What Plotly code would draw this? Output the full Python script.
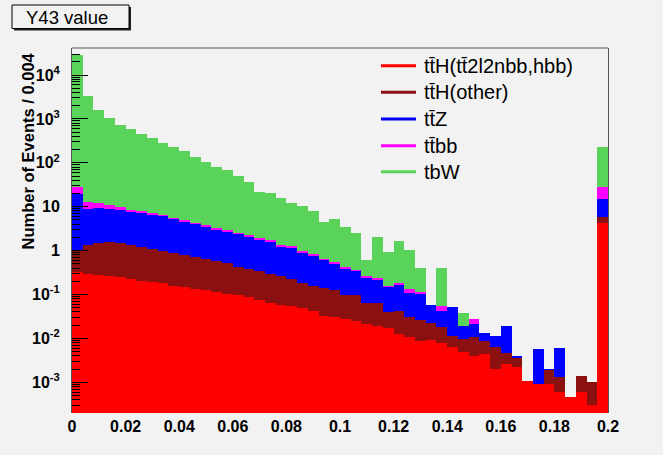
import numpy as np
import plotly.graph_objects as go

# 50 bins of width 0.004 on [0, 0.2]
bin_width = 0.004
bin_centers = [round(bin_width * (k + 0.5), 4) for k in range(50)]

# Expected events per bin for each sample (stacked bottom -> top)
tth_signal = [
    0.331, 0.293, 0.278, 0.264, 0.246, 0.222, 0.206, 0.196, 0.180, 0.156,
    0.146, 0.133, 0.127, 0.116, 0.103, 0.0975, 0.0892, 0.0769, 0.0650, 0.0577,
    0.0547, 0.0485, 0.0428, 0.0324, 0.0312, 0.0272, 0.0249, 0.0210, 0.0195, 0.0170,
    0.0126, 0.0109, 0.00873, 0.0092, 0.00773, 0.00621, 0.00498, 0.00397, 0.00441, 0.00201,
    0.00257, 0.00227, 0.00109, 0.000915, 0.000915, 0.000592, 0.00047, 0.000592, 0.000304, 4.32,
]
tth_other = [
    0.664, 1.047, 1.25, 1.27, 1.22, 1.14, 1.00, 0.90, 0.80, 0.726,
    0.661, 0.593, 0.527, 0.464, 0.419, 0.333, 0.286, 0.266, 0.228, 0.210,
    0.167, 0.1315, 0.113, 0.1056, 0.0954, 0.0703, 0.0726, 0.044, 0.0436, 0.0236,
    0.0302, 0.0203, 0.0175, 0.0129, 0.0107, 0.0053, 0.00456, 0.00697, 0.00445, 0.00426,
    0.00215, 0.00144, 0.0, 0.0, 0.000995, 0.00075, 0.0, 0.0008, 0.00073, 1.51,
]
ttz = [
    18.46, 7.39, 7.67, 7.34, 6.94, 6.10, 5.86, 5.37, 5.16, 4.37,
    3.74, 3.31, 2.85, 2.48, 2.18, 2.02, 1.725, 1.47, 1.30, 1.00,
    0.94, 0.716, 0.638, 0.473, 0.387, 0.2975, 0.2505, 0.181, 0.159, 0.1104,
    0.130, 0.0788, 0.0798, 0.0356, 0.0243, 0.0396, 0.00963, 0.0101, 0.00463, 0.00508,
    0.01445, 0.00026, 0.0, 0.00474, 0.00007, 0.00461, 0.0, 0.0, 0.0, 9.37,
]
ttbb = [
    9.15, 4.27, 2.75, 2.06, 1.59, 0.95, 0.79, 0.72, 0.33, 0.28,
    0.43, 0.28, 0.27, 0.16, 0.25, 0.13, 0.11, 0.13, 0.11, 0.07,
    0.08, 0.084, 0.043, 0.033, 0.036, 0.039, 0.019, 0.014, 0.012, 0.009,
    0.010, 0.023, 0.008, 0.0, 0.0119, 0.0, 0.0, 0.0062, 0.0, 0.0,
    0.0, 0.0, 0.0, 0.0, 0.0, 0.0, 0.0, 0.0, 0.0, 12.5,
]
tbw = [
    28510, 3310, 1558, 1021, 716, 572, 452, 354, 271.5, 227.5,
    181, 128.7, 98.8, 75.8, 65.5, 47.4, 33.8, 20.1, 18.5, 14.2,
    10.7, 9.56, 7.27, 3.91, 4.70, 2.97, 2.15, 0.351, 1.81, 0.755,
    1.471, 0.899, 0.281, 0.0, 0.353, 0.0, 0.0181, 0.0, 0.0, 0.0,
    0.0, 0.0, 0.0, 0.0, 0.0, 0.0, 0.0, 0.0, 0.0, 197,
]

sample_names = [
    "t\u0074\u0304H(t\u0074\u03042l2nbb,hbb)",
    "t\u0074\u0304H(other)",
    "t\u0074\u0304Z",
    "t\u0074\u0304bb",
    "tbW",
]
sample_values = [tth_signal, tth_other, ttz, ttbb, tbw]
sample_colors = ["#ff0000", "#8b1111", "#0000ff", "#ff00ff", "#59d359"]

x_ticks = [0, 0.02, 0.04, 0.06, 0.08, 0.1, 0.12, 0.14, 0.16, 0.18, 0.2]
x_ticktext = ["0", "0.02", "0.04", "0.06", "0.08", "0.1", "0.12", "0.14", "0.16", "0.18", "0.2"]
y_ticks = [1e-3, 1e-2, 1e-1, 1, 10, 1e2, 1e3, 1e4]
y_ticktext = ["10<sup>-3</sup>", "10<sup>-2</sup>", "10<sup>-1</sup>", "1", "10",
              "10<sup>2</sup>", "10<sup>3</sup>", "10<sup>4</sup>"]

BG = "#f2f2f2"
FONT = "Liberation Sans, Arial, sans-serif"

fig = go.Figure()

for name, values, color in zip(sample_names, sample_values, sample_colors):
    fig.add_trace(go.Bar(
        x=bin_centers, y=values, width=bin_width, name=name,
        marker=dict(color=color, line=dict(width=0)),
        showlegend=False,
    ))

minor_vals = [m * 10.0 ** k for k in range(-4, 5) for m in range(2, 10)]

W, H = 663, 455
L, R, T, B = 72, 55, 48, 42
pw, ph = W - L - R, H - T - B


def px(xp):
    return (xp - L) / pw


def py(yp):
    return (H - B - yp) / ph


shapes = [
    # top edge of the frame
    dict(type="line", xref="paper", yref="paper", x0=0, x1=1, y0=1, y1=1,
         line=dict(color="#555555", width=1), layer="above"),
    # title box shadow and box
    dict(type="rect", xref="paper", yref="paper",
         x0=px(14), x1=px(131), y0=py(30.5), y1=py(7),
         fillcolor="#222222", line=dict(width=0), layer="above"),
    dict(type="rect", xref="paper", yref="paper",
         x0=px(12), x1=px(129), y0=py(28.5), y1=py(5),
         fillcolor=BG, line=dict(color="black", width=1), layer="above"),
]
annotations = [
    dict(text="Y43 value", xref="paper", yref="paper",
         x=px(67), y=py(17), xanchor="center", yanchor="middle",
         showarrow=False, font=dict(size=18.5, family=FONT, color="black")),
    dict(text="Number of Events / 0.004", xref="paper", yref="paper",
         x=px(27), y=py(151.5), xanchor="center", yanchor="middle",
         textangle=-90, showarrow=False,
         font=dict(size=16.5, family=FONT, color="black", weight="bold")),
]

# legend: coloured line + label per sample
legend_rows = [65.7, 92.3, 119.0, 145.7, 171.7]
for name, color, row in zip(sample_names, sample_colors, legend_rows):
    shapes.append(dict(type="line", xref="paper", yref="paper",
                       x0=px(381), x1=px(416), y0=py(row), y1=py(row),
                       line=dict(color=color, width=3), layer="above"))
    annotations.append(dict(text=name, xref="paper", yref="paper",
                            x=px(422), y=py(row), xanchor="left", yanchor="middle",
                            showarrow=False,
                            font=dict(size=20, family=FONT, color="black")))

fig.update_layout(
    width=W, height=H,
    margin=dict(l=L, r=R, t=T, b=B),
    paper_bgcolor=BG, plot_bgcolor=BG,
    barmode="stack", bargap=0,
    font=dict(family=FONT, color="black"),
    showlegend=False,
    xaxis=dict(
        range=[0, 0.2], tickvals=x_ticks, ticktext=x_ticktext,
        ticks="", showgrid=False, zeroline=False, showline=False,
        tickfont=dict(size=16, family=FONT, weight="bold"),
        ticklabelstandoff=2,
    ),
    yaxis=dict(
        type="log", range=[-3.699, 4.615],
        tickvals=y_ticks, ticktext=y_ticktext,
        ticks="inside", ticklen=16, tickcolor="black", tickwidth=1,
        minor=dict(tickvals=minor_vals, ticks="inside", ticklen=8,
                   tickcolor="black", tickwidth=1, showgrid=False),
        showgrid=False, zeroline=False,
        showline=True, linecolor="#555555", linewidth=1, mirror=True,
        tickfont=dict(size=16, family=FONT, weight="bold"),
        ticklabelstandoff=8,
    ),
    shapes=shapes,
    annotations=annotations,
)

fig.write_html("out.html")
